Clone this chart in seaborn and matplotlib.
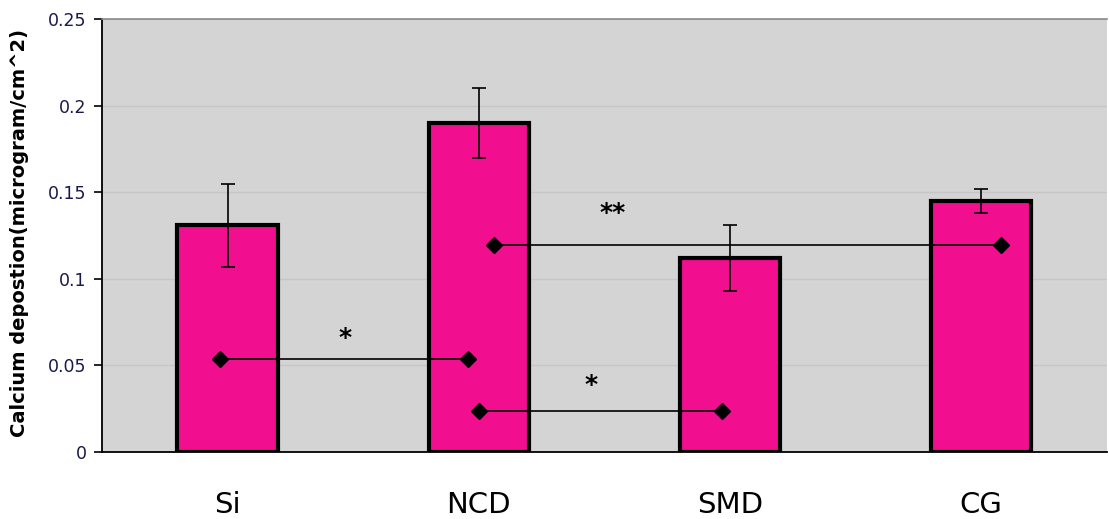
import numpy as np
import pandas as pd
import matplotlib
matplotlib.use("Agg")
import matplotlib.pyplot as plt
import seaborn as sns

categories = ["Si", "NCD", "SMD", "CG"]
means = [0.131, 0.190, 0.112, 0.145]
errors = [0.024, 0.020, 0.019, 0.007]

# significance brackets: (x start, x end, y level, label, label x, label y)
sig_x1 = [-0.03, 1.00, 1.06]
sig_x2 = [0.955, 1.97, 3.08]
sig_y = [0.0535, 0.0235, 0.1195]
sig_labels = ["*", "*", "**"]
sig_label_x = [0.466, 1.446, 1.534]
sig_label_y = [0.066, 0.0385, 0.138]

yticks = [0, 0.05, 0.1, 0.15, 0.2, 0.25]
ytick_labels = ["0", "0.05", "0.1", "0.15", "0.2", "0.25"]

sns.set_style("white")
plt.rcParams['font.family'] = ['DejaVu Sans']

df = pd.DataFrame({"cat": categories, "val": means})

fig = plt.figure(figsize=(11.09, 5.19), dpi=100)
ax = fig.add_axes([0.092, 0.129, 0.906, 0.834])
ax.set_facecolor("#d4d4d4")

sns.barplot(data=df, x="cat", y="val", color="#f20f8f", saturation=1,
            edgecolor="black", linewidth=3, width=0.4, ax=ax, errorbar=None, zorder=3)

xpos = np.arange(len(categories))
ax.errorbar(xpos, means, yerr=errors, fmt="none", ecolor="black",
            elinewidth=1.2, capsize=5, capthick=1.2, zorder=4)

for x1, x2, y, lab, lx, ly in zip(sig_x1, sig_x2, sig_y, sig_labels, sig_label_x, sig_label_y):
    ax.plot([x1, x2], [y, y], color="black", lw=1.2, marker="D", markersize=8, zorder=5)
    ax.text(lx, ly, lab, ha="center", va="center", fontsize=18, fontweight="bold", color="black", zorder=6)

ax.set_xlim(-0.5, 3.5)
ax.set_ylim(0, 0.25)
ax.set_yticks(yticks)
ax.set_yticklabels(ytick_labels, color="#1a1a4a", fontsize=12.5)
ax.yaxis.grid(True, color="#c6c6c6", lw=1, zorder=0)
ax.set_axisbelow(True)

ax.set_xticks(xpos)
ax.set_xticklabels(categories, fontsize=21, color="black")
ax.set_xticks([-0.5, 0.5, 1.5, 2.5, 3.5], minor=True)
ax.tick_params(axis="x", which="major", length=0, pad=28)
ax.tick_params(axis="x", which="minor", length=6, width=1.2, direction="out", color="black")
ax.tick_params(axis="y", length=6, width=1.2, direction="out", color="black", pad=5, left=True)

ax.set_xlabel("")
ax.set_ylabel("Calcium depostion(microgram/cm^2)", fontsize=14, fontweight="bold", color="black")
ax.yaxis.set_label_coords(-0.073, 0.507)

for s in ["left", "bottom"]:
    ax.spines[s].set_color("black")
    ax.spines[s].set_linewidth(1.3)
ax.spines["top"].set_color("#8a8a8a")
ax.spines["top"].set_linewidth(1.2)
ax.spines["right"].set_visible(False)

fig.savefig("out.png", dpi=100)
